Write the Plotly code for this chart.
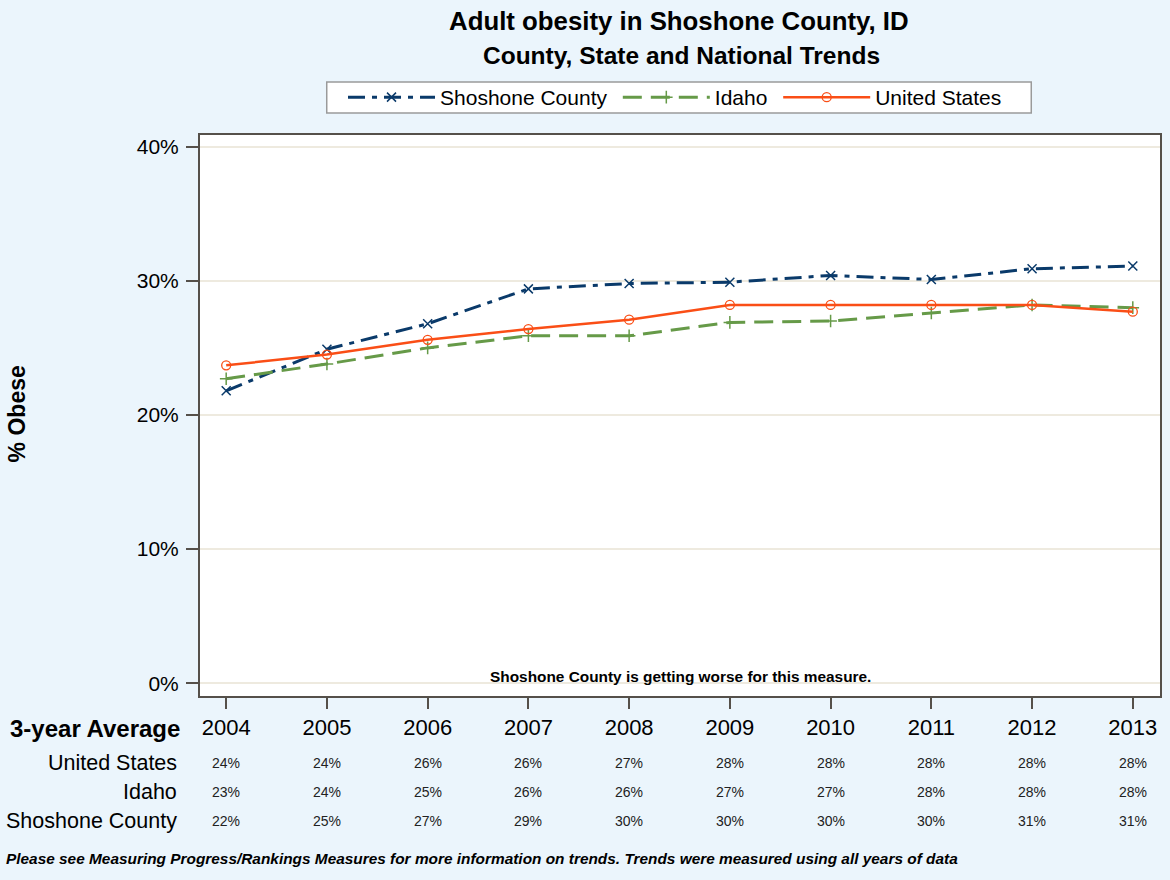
import plotly.graph_objects as go

# Data
years = [2004, 2005, 2006, 2007, 2008, 2009, 2010, 2011, 2012, 2013]
shoshone = [21.8, 24.9, 26.8, 29.4, 29.8, 29.9, 30.4, 30.1, 30.9, 31.1]
idaho = [22.7, 23.8, 25.0, 25.9, 25.9, 26.9, 27.0, 27.6, 28.2, 28.0]
united_states = [23.7, 24.5, 25.6, 26.4, 27.1, 28.2, 28.2, 28.2, 28.2, 27.7]

# Table text under the chart (3-year averages, as printed)
us_labels = ["24%", "24%", "26%", "26%", "27%", "28%", "28%", "28%", "28%", "28%"]
idaho_labels = ["23%", "24%", "25%", "26%", "26%", "27%", "27%", "28%", "28%", "28%"]
shoshone_labels = ["22%", "25%", "27%", "29%", "30%", "30%", "30%", "30%", "31%", "31%"]

FONT = "Liberation Sans, Arial, sans-serif"
NAVY = "#0A3A6A"
GREEN = "#669A48"
ORANGE = "#FA4E16"
BG = "#EBF5FC"
FRAME = "#55504A"

NB = "\u00a0"

fig = go.Figure()

fig.add_trace(go.Scatter(
    x=years, y=shoshone, name="Shoshone County" + NB, mode="lines+markers",
    line=dict(color=NAVY, width=3, dash="17px,7px,5px,7px"),
    marker=dict(symbol="x-thin", size=9, line=dict(color=NAVY, width=1.5))
))
fig.add_trace(go.Scatter(
    x=years, y=idaho, name="Idaho" + NB, mode="lines+markers",
    line=dict(color=GREEN, width=3, dash="19px,9px"),
    marker=dict(symbol="cross-thin", size=9, line=dict(color=GREEN, width=1.5))
))
fig.add_trace(go.Scatter(
    x=years, y=united_states, name="United States", mode="lines+markers",
    line=dict(color=ORANGE, width=2.5),
    marker=dict(symbol="circle-open", size=9, color=ORANGE, line=dict(width=1.3))
))

# pixel -> paper coordinate (plot area spans x=200..1162, y=135..696)
def px_to_paper(p):
    return (696 - p) / 561.0

def pxx_to_paper(p):
    return (p - 200) / 962.0

rows = [
    ("United States", us_labels, 763),
    ("Idaho", idaho_labels, 792),
    ("Shoshone County", shoshone_labels, 821),
]
annotations = [dict(
    x=pxx_to_paper(182), y=px_to_paper(728), xref="paper", yref="paper", text="<b>3-year Average</b>",
    showarrow=False, xanchor="right", yanchor="middle", font=dict(size=24, color="black")
)]
for label, vals, ypix in rows:
    annotations.append(dict(
        x=pxx_to_paper(179), y=px_to_paper(ypix), xref="paper", yref="paper", text=label,
        showarrow=False, xanchor="right", yanchor="middle", font=dict(size=21.5, color="black")
    ))
    for yr, v in zip(years, vals):
        annotations.append(dict(
            x=yr, y=px_to_paper(ypix), xref="x", yref="paper", text=v,
            showarrow=False, xanchor="center", yanchor="middle", font=dict(size=14, color="#222")
        ))

annotations.append(dict(
    x=0.5, y=px_to_paper(676), xref="paper", yref="paper",
    text="<b>Shoshone County is getting worse for this measure.</b>",
    showarrow=False, xanchor="center", yanchor="middle", font=dict(size=15.4, color="black")
))
annotations.append(dict(
    x=pxx_to_paper(4), y=px_to_paper(858), xref="paper", yref="paper",
    text="<b><i>Please see Measuring Progress/Rankings Measures for more information on trends. Trends were measured using all years of data</i></b>",
    showarrow=False, xanchor="left", yanchor="middle", font=dict(size=15.4, color="black")
))
annotations.append(dict(
    x=pxx_to_paper(17), y=px_to_paper(414), xref="paper", yref="paper",
    text="<b>% Obese</b>", textangle=-90,
    showarrow=False, xanchor="center", yanchor="middle", font=dict(size=23, color="black")
))
annotations.append(dict(
    x=pxx_to_paper(680), y=px_to_paper(21), xref="paper", yref="paper",
    text="<b>Adult obesity in Shoshone County, ID</b>",
    showarrow=False, xanchor="center", yanchor="middle", font=dict(size=25.8, color="black")
))
annotations.append(dict(
    x=pxx_to_paper(683), y=px_to_paper(55), xref="paper", yref="paper",
    text="<b>County, State and National Trends</b>",
    showarrow=False, xanchor="center", yanchor="middle", font=dict(size=24.5, color="black")
))

# legend frame drawn as a shape so its size matches the reference
shapes = [dict(
    type="rect", xref="paper", yref="paper",
    x0=pxx_to_paper(327), x1=pxx_to_paper(1033), y0=px_to_paper(82), y1=px_to_paper(113),
    fillcolor="white", line=dict(color="#9A9A9A", width=1.5), layer="below"
)]

fig.update_layout(
    width=1170, height=880,
    margin=dict(l=200, r=8, t=135, b=184),
    paper_bgcolor=BG, plot_bgcolor="white",
    font=dict(family=FONT, color="black"),
    showlegend=True,
    legend=dict(
        orientation="h", x=pxx_to_paper(676), xanchor="center", y=px_to_paper(97.5), yanchor="middle",
        bgcolor="rgba(0,0,0,0)", borderwidth=0,
        font=dict(size=21), itemwidth=87, tracegroupgap=0
    ),
    annotations=annotations,
    shapes=shapes,
)
fig.update_xaxes(
    range=[2003.74, 2013.27], tickvals=years, ticktext=[str(y) for y in years],
    showgrid=False, zeroline=False, ticks="outside", ticklen=11, tickwidth=2, tickcolor=FRAME,
    tickfont=dict(size=22), showline=True, linecolor=FRAME, linewidth=2, mirror=True
)
fig.update_yaxes(
    range=[-0.95, 40.87], tickvals=[0, 10, 20, 30, 40], ticktext=["0%", "10%", "20%", "30%", "40%"],
    showgrid=True, gridcolor="#EEEADF", gridwidth=1.5, zeroline=False,
    ticks="outside", ticklen=12, tickwidth=2, tickcolor=FRAME, ticklabelstandoff=3,
    tickfont=dict(size=21), showline=True, linecolor=FRAME, linewidth=2, mirror=True
)

fig.write_html("out.html", config={"displayModeBar": False},
               post_script="document.body.style.margin='0';")
